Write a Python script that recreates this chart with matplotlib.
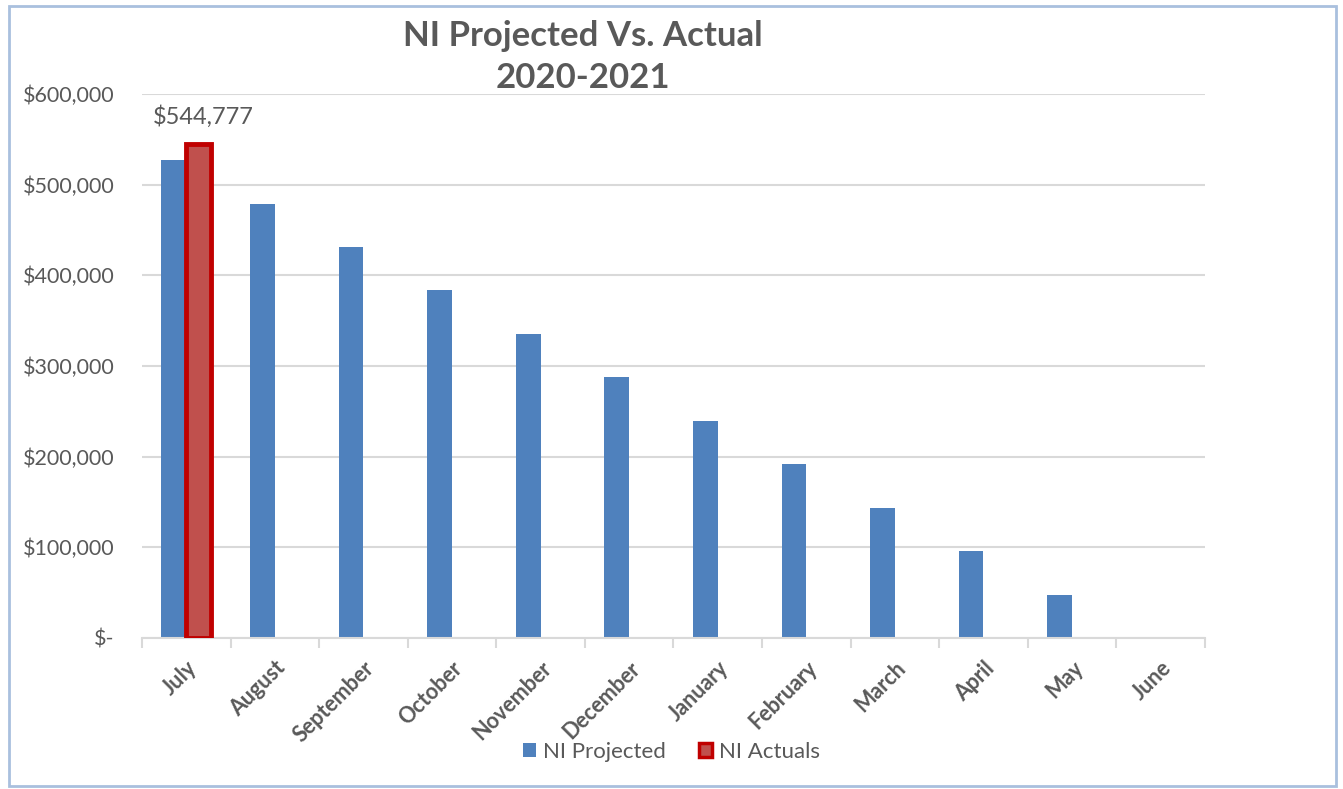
import matplotlib.pyplot as plt
import numpy as np
from matplotlib.patches import Rectangle, Patch
from matplotlib.ticker import FuncFormatter

months = ["July", "August", "September", "October", "November", "December",
          "January", "February", "March", "April", "May", "June"]
ni_projected = [527083, 479167, 431250, 383333, 335417, 287500,
                239583, 191667, 143750, 95833, 47917, 0]
ni_actuals = [544777] + [np.nan] * 11

plt.rcParams["font.family"] = ["Lato", "DejaVu Sans"]
text_gray = "#595959"

fig = plt.figure(figsize=(13.43, 7.89), dpi=100)
ax = fig.add_axes([0.1057, 0.1914, 0.7915, 0.6895])

x = np.arange(len(months))
w = 0.28
ax.bar(x - w / 2, ni_projected, width=w, color="#4f81bd", label="NI Projected", zorder=2)
act = ax.bar(x + w / 2, ni_actuals, width=w, color="#c0504d", edgecolor="#c00000",
             linewidth=3.5, label="NI Actuals", zorder=3)

for rect, v in zip(act, ni_actuals):
    if not np.isnan(v):
        ax.annotate(f"${v:,.0f}", (rect.get_x() + rect.get_width() / 2, v),
                    xytext=(3, 12), textcoords="offset points", ha="center",
                    va="bottom", fontsize=17, color=text_gray)

ax.set_xlim(-0.5, len(months) - 0.5)
ax.set_ylim(0, 600000)
ax.set_yticks(np.arange(0, 600001, 100000))
ax.yaxis.set_major_formatter(FuncFormatter(lambda v, pos: "$-" if v == 0 else f"${v:,.0f}"))
ax.grid(axis="y", color="#d9d9d9", linewidth=1.5, zorder=0)
ax.set_axisbelow(True)
for s in ["top", "right", "left"]:
    ax.spines[s].set_visible(False)
ax.spines["bottom"].set_color("#d9d9d9")
ax.spines["bottom"].set_linewidth(1.5)

ax.set_xticks(np.arange(-0.5, len(months) + 0.5, 1))
ax.set_xticklabels([])
ax.set_xticks(x, minor=True)
ax.set_xticklabels(months, minor=True, rotation=45, ha="right", rotation_mode="anchor",
                   fontsize=15.5, fontweight="bold", color=text_gray)
ax.tick_params(axis="x", which="major", length=7, width=1.5, color="#d9d9d9")
ax.tick_params(axis="x", which="minor", length=0, pad=14)
ax.tick_params(axis="y", length=0, labelsize=15.5, labelcolor=text_gray, pad=20)

fig.text(0.434, 0.955, "NI Projected Vs. Actual", ha="center", va="center",
         fontsize=25, fontweight="bold", color=text_gray)
fig.text(0.434, 0.901, "2020-2021", ha="center", va="center",
         fontsize=25, fontweight="bold", color=text_gray)

handles = [Patch(facecolor="#4f81bd", label="NI Projected"),
           Patch(facecolor="#c0504d", edgecolor="#c00000", linewidth=2.5, label="NI Actuals")]
fig.legend(handles=handles, loc="center", bbox_to_anchor=(0.50, 0.047), ncol=2,
           frameon=False, fontsize=16, handlelength=0.6, handleheight=0.6,
           handletextpad=0.3, columnspacing=1.5, labelcolor=text_gray)

# chart border
fig.patches.append(Rectangle((0.007, 0.004), 0.988, 0.988, transform=fig.transFigure,
                             fill=False, edgecolor="#a9c0de", linewidth=2))

fig.savefig("out.png", dpi=100)
